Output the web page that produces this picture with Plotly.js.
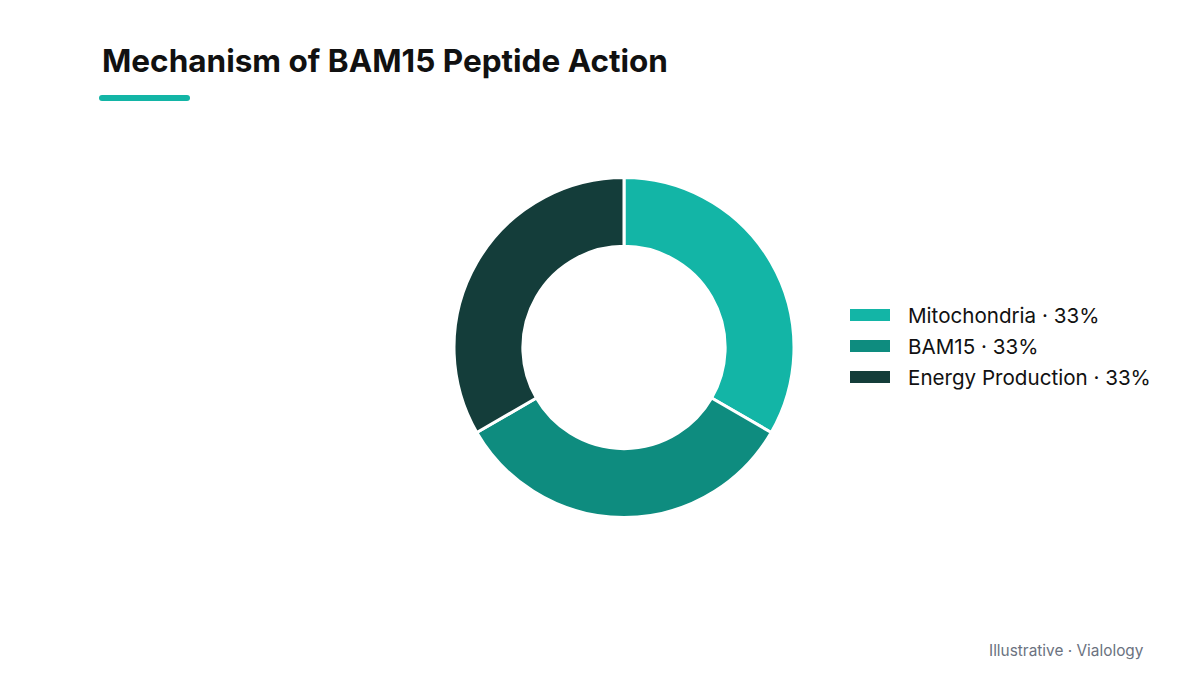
<!DOCTYPE html>
<html>
<head>
<meta charset="utf-8">
<script src="https://cdn.plot.ly/plotly-3.0.1.min.js"></script>
<style>
  html, body { margin: 0; padding: 0; background: #ffffff; }
  #chart { width: 1200px; height: 675px; }
</style>
</head>
<body>
<div id="chart"></div>
<script>
const labels = ['Mitochondria', 'BAM15', 'Energy Production'];
const values = [1, 1, 1];
const colors = ['#13b5a6', '#0e8c7f', '#143d3a'];

const W = 1200, H = 675;
const px = x => x / W;
const py = y => 1 - y / H;

const total = values.reduce((a, b) => a + b, 0);
const pct = values.map(v => Math.round(v / total * 100));

const trace = {
    type: 'pie',
    labels: labels,
    values: values,
    hole: 0.595,
    sort: false,
    direction: 'clockwise',
    rotation: 0,
    textinfo: 'none',
    hoverinfo: 'label+percent',
    marker: {colors: colors, line: {color: '#ffffff', width: 3}},
    domain: {x: [px(624 - 170), px(624 + 170)], y: [py(347.5 + 170), py(347.5 - 170)]},
    showlegend: false
};

const fontFamily = 'Inter, "Noto Sans", sans-serif';

// legend drawn by hand so the swatches are wide bars
const shapes = [
    {type: 'rect', xref: 'paper', yref: 'paper', x0: px(102), x1: px(187), y0: py(101), y1: py(95),
        fillcolor: '#13b5a6', line: {width: 0}},
    {type: 'circle', xref: 'paper', yref: 'paper', x0: px(99), x1: px(105), y0: py(101), y1: py(95),
        fillcolor: '#13b5a6', line: {width: 0}},
    {type: 'circle', xref: 'paper', yref: 'paper', x0: px(184), x1: px(190), y0: py(101), y1: py(95),
        fillcolor: '#13b5a6', line: {width: 0}}
];
const annotations = [
    {text: '<b>Mechanism of BAM15 Peptide Action</b>', xref: 'paper', yref: 'paper',
        x: px(100), y: py(60), xanchor: 'left', yanchor: 'middle', showarrow: false,
        font: {family: fontFamily, size: 31.5, color: '#111111'}},
    {text: 'Illustrative · Vialology', xref: 'paper', yref: 'paper',
        x: px(1146), y: py(650), xanchor: 'right', yanchor: 'middle', showarrow: false,
        font: {family: fontFamily, size: 15.4, color: '#6b7280'}}
];

labels.forEach((lab, i) => {
    const yc = 315 + i * 31;
    shapes.push({type: 'rect', xref: 'paper', yref: 'paper',
        x0: px(850), x1: px(890), y0: py(yc + 6), y1: py(yc - 6),
        fillcolor: colors[i], line: {width: 0}});
    annotations.push({text: lab + ' · ' + pct[i] + '%', xref: 'paper', yref: 'paper',
        x: px(906), y: py(yc), xanchor: 'left', yanchor: 'middle', showarrow: false,
        font: {family: fontFamily, size: 20.6, color: '#111111'}});
});

const layout = {
    width: W,
    height: H,
    paper_bgcolor: '#ffffff',
    plot_bgcolor: '#ffffff',
    margin: {t: 0, b: 0, l: 0, r: 0},
    font: {family: fontFamily, color: '#111111'},
    showlegend: false,
    shapes: shapes,
    annotations: annotations
};

Plotly.newPlot('chart', [trace], layout, {displayModeBar: false, responsive: false});
</script>
</body>
</html>
